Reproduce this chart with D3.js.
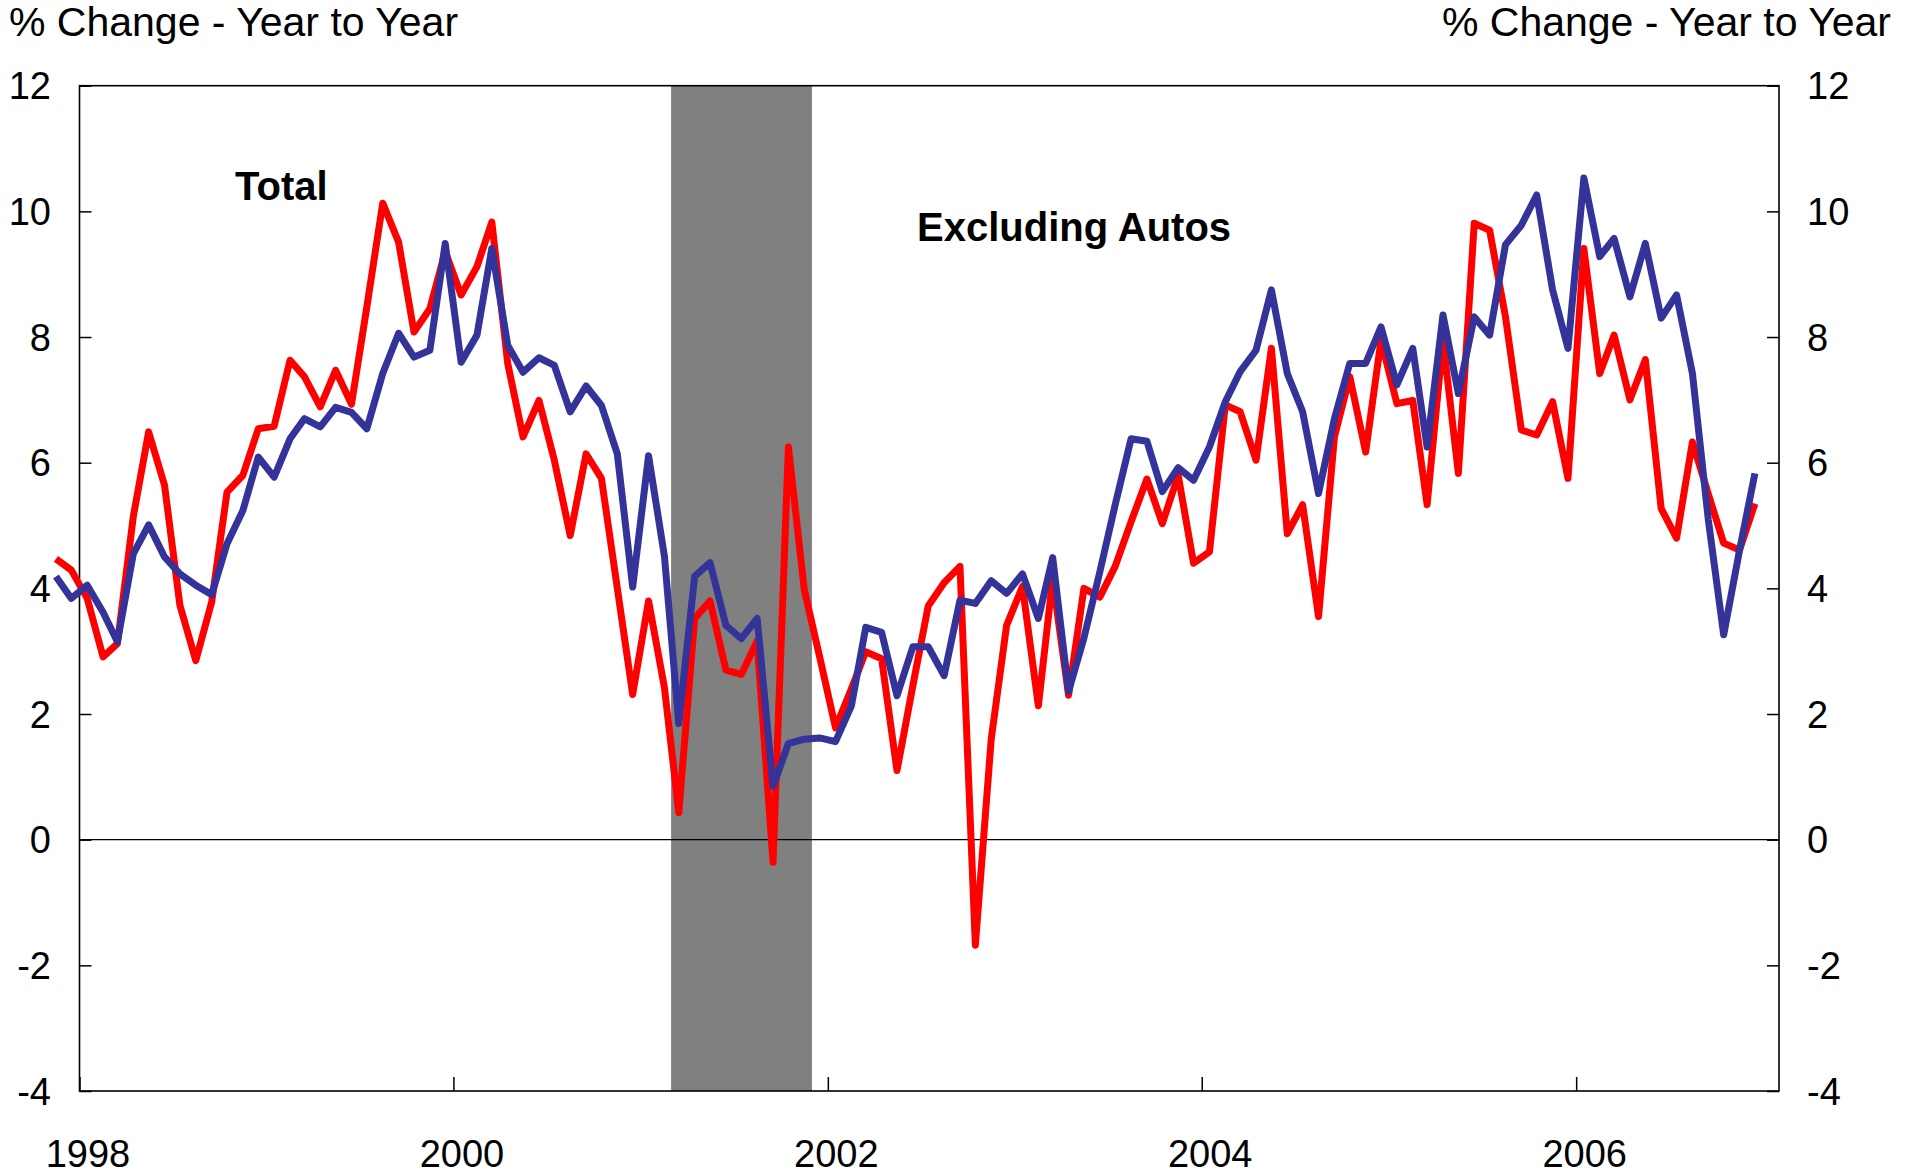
<!DOCTYPE html>
<html>
<head>
<meta charset="utf-8">
<script src="https://cdn.jsdelivr.net/npm/d3@7"></script>
<style>
  body { margin: 0; background: #fff; }
  text { font-family: "Liberation Sans", Arial, sans-serif; fill: #000; }
</style>
</head>
<body>
<svg id="mainSVG" width="1918" height="1175"></svg>
<script>
// months: Nov 1997 .. Dec 2006 (one point per month)
var months = d3.timeMonth.range(new Date(1997, 10, 1), new Date(2007, 0, 1));

// Total (red)
var total = [4.47, 4.29, 3.84, 2.91, 3.12, 5.14, 6.49, 5.64, 3.73, 2.85,
  3.78, 5.53, 5.80, 6.54, 6.58, 7.63, 7.37, 6.89, 7.47, 6.93,
  8.48, 10.13, 9.51, 8.08, 8.45, 9.36, 8.67, 9.12, 9.83, 7.58,
  6.41, 6.99, 6.04, 4.84, 6.14, 5.75, 4.00, 2.31, 3.80, 2.42,
  0.43, 3.52, 3.80, 2.70, 2.63, 3.16, -0.36, 6.25, 3.98, 2.91,
  1.78, 2.40, 2.99, 2.88, 1.10, 2.45, 3.72, 4.09, 4.35, -1.68,
  1.60, 3.41, 4.03, 2.13, 4.15, 2.30, 4.00, 3.86, 4.35, 5.06,
  5.74, 5.03, 5.80, 4.40, 4.58, 6.92, 6.81, 6.04, 7.82, 4.87,
  5.33, 3.55, 6.41, 7.37, 6.17, 7.95, 6.94, 6.99, 5.33, 7.95,
  5.83, 9.81, 9.70, 8.32, 6.52, 6.44, 6.97, 5.75, 9.41, 7.42,
  8.03, 7.00, 7.64, 5.27, 4.80, 6.33, 5.50, 4.72, 4.61, 5.35];

// Excluding Autos (blue)
var exAutos = [4.19, 3.84, 4.05, 3.62, 3.15, 4.55, 5.01, 4.50, 4.23, 4.05,
  3.90, 4.71, 5.24, 6.09, 5.77, 6.38, 6.70, 6.57, 6.88, 6.80,
  6.54, 7.42, 8.06, 7.68, 7.79, 9.49, 7.60, 8.03, 9.41, 7.87,
  7.44, 7.67, 7.55, 6.81, 7.22, 6.91, 6.14, 4.02, 6.11, 4.51,
  1.85, 4.19, 4.41, 3.41, 3.20, 3.52, 0.85, 1.53, 1.60, 1.62,
  1.56, 2.13, 3.38, 3.30, 2.29, 3.07, 3.07, 2.61, 3.81, 3.76,
  4.12, 3.92, 4.23, 3.52, 4.49, 2.36, 3.21, 4.26, 5.33, 6.38,
  6.34, 5.54, 5.92, 5.72, 6.25, 6.97, 7.45, 7.79, 8.75, 7.42,
  6.81, 5.51, 6.70, 7.58, 7.58, 8.16, 7.24, 7.82, 6.25, 8.35,
  7.10, 8.32, 8.03, 9.47, 9.78, 10.26, 8.75, 7.82, 10.53, 9.28,
  9.57, 8.64, 9.49, 8.30, 8.67, 7.42, 5.09, 3.26, 4.61, 5.83];

var recession = [new Date(2001, 2, 1), new Date(2001, 11, 1)];
var yearTicks = [1998, 2000, 2002, 2004, 2006];
var valueTicks = [-4, -2, 0, 2, 4, 6, 8, 10, 12];

var mainSVG = d3.select("#mainSVG");

// caixa do grafico
var boxLeft = 79.5, boxRight = 1779, boxTop = 85.7, boxBottom = 1091;

var xScale = d3.scaleTime()
	.domain([new Date(1998, 0, 1), new Date(2007, 1, 1)])
	.range([boxLeft, boxRight]);
var yScale = d3.scaleLinear().domain([-4, 12]).range([boxBottom, boxTop]);

// point sits in the middle of its month
function midMonth(d) { return new Date(d.getFullYear(), d.getMonth(), 16); }

// recession band
mainSVG.append("rect")
	.attr("x", xScale(recession[0]))
	.attr("y", boxTop)
	.attr("width", xScale(recession[1]) - xScale(recession[0]))
	.attr("height", boxBottom - boxTop)
	.attr("fill", "#808080");

// zero line
mainSVG.append("line")
	.attr("x1", boxLeft).attr("x2", boxRight)
	.attr("y1", yScale(0)).attr("y2", yScale(0))
	.attr("stroke", "#000").attr("stroke-width", 1.2);

// axes (ticks point inward)
var leftAxis = d3.axisRight(yScale).tickValues(valueTicks).tickSize(12).tickFormat("");
mainSVG.append("g").attr("transform", "translate(" + boxLeft + ",0)").call(leftAxis);
var rightAxis = d3.axisLeft(yScale).tickValues(valueTicks).tickSize(12).tickFormat("");
mainSVG.append("g").attr("transform", "translate(" + boxRight + ",0)").call(rightAxis);
var xAxis = d3.axisTop(xScale)
	.tickValues(yearTicks.map(function (y) { return new Date(y, 0, 1); }))
	.tickSize(14).tickFormat("");
mainSVG.append("g").attr("transform", "translate(0," + boxBottom + ")").call(xAxis);
mainSVG.selectAll(".domain").remove();
mainSVG.selectAll(".tick line").attr("stroke", "#000").attr("stroke-width", 1.5);

// frame
mainSVG.append("rect")
	.attr("x", boxLeft).attr("y", boxTop)
	.attr("width", boxRight - boxLeft).attr("height", boxBottom - boxTop)
	.attr("fill", "none").attr("stroke", "#000").attr("stroke-width", 1.6);

// series
var line = d3.line()
	.x(function (d) { return xScale(midMonth(d.date)); })
	.y(function (d) { return yScale(d.value); });

function series(values) {
	return values.map(function (v, i) { return {date: months[i], value: v}; });
}

mainSVG.append("path")
	.datum(series(total))
	.attr("d", line)
	.attr("fill", "none")
	.attr("stroke", "#FF0000")
	.attr("stroke-width", 7)
	.attr("stroke-linejoin", "round");

mainSVG.append("path")
	.datum(series(exAutos))
	.attr("d", line)
	.attr("fill", "none")
	.attr("stroke", "#333399")
	.attr("stroke-width", 7)
	.attr("stroke-linejoin", "round");

// tick labels
mainSVG.selectAll(".yLeft")
	.data(valueTicks)
	.enter().append("text")
	.attr("class", "yLeft")
	.attr("x", 51)
	.attr("y", function (d) { return yScale(d); })
	.attr("dy", "0.36em")
	.attr("text-anchor", "end")
	.style("font-size", "38px")
	.text(function (d) { return d; });

mainSVG.selectAll(".yRight")
	.data(valueTicks)
	.enter().append("text")
	.attr("class", "yRight")
	.attr("x", 1807)
	.attr("y", function (d) { return yScale(d); })
	.attr("dy", "0.36em")
	.attr("text-anchor", "start")
	.style("font-size", "38px")
	.text(function (d) { return d; });

mainSVG.selectAll(".xLab")
	.data(yearTicks)
	.enter().append("text")
	.attr("class", "xLab")
	.attr("x", function (d) { return xScale(new Date(d, 0, 1)) + 8.5; })
	.attr("y", 1167)
	.attr("text-anchor", "middle")
	.style("font-size", "38px")
	.text(function (d) { return d; });

// axis titles
mainSVG.append("text")
	.attr("x", 9).attr("y", 36)
	.style("font-size", "41px")
	.text("% Change - Year to Year");
mainSVG.append("text")
	.attr("x", 1891).attr("y", 36)
	.attr("text-anchor", "end")
	.style("font-size", "41px")
	.text("% Change - Year to Year");

// series labels
mainSVG.append("text")
	.attr("x", 235).attr("y", 200)
	.style("font-size", "40px").style("font-weight", "bold")
	.text("Total");
mainSVG.append("text")
	.attr("x", 917).attr("y", 241)
	.style("font-size", "40px").style("font-weight", "bold")
	.text("Excluding Autos");
</script>
</body>
</html>
